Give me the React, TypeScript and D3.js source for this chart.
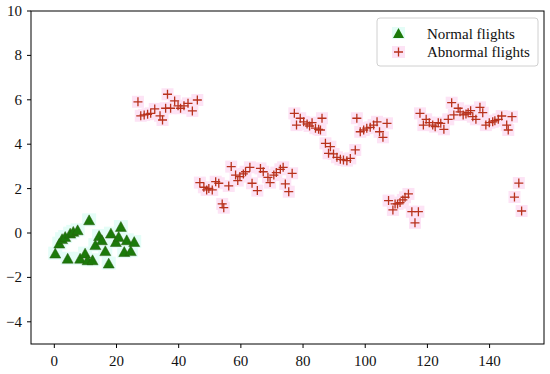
import React from 'react';
import * as d3 from 'd3';

// normal flights (triangles)
const normalX = [0.3, 1.6, 2.5, 3.5, 4.3, 5.1, 6.1, 7.5, 8.3, 9.9, 10.7, 11.2, 12.3, 13.2, 14.4, 15.3, 16.4, 17.5, 18.2, 19.8, 20.7, 21.4, 22.5, 23.3, 24.6, 25.7];
const normalY = [-0.93, -0.48, -0.28, -0.18, -1.16, -0.03, 0.05, 0.12, -1.16, -0.93, -1.23, 0.57, -1.23, -0.55, -0.14, -0.33, -0.82, -1.38, -0.03, -0.41, -0.18, 0.27, -0.86, -0.33, -0.82, -0.41];

// abnormal flights (plus signs)
const abnormalX = [
  26.9, 27.8, 28.9, 30, 31, 32.3, 34, 34.8, 35.8, 36.4, 37.4, 38.7, 39.8, 40.6, 41.7, 43, 44.4, 46,
  46.8, 48.1, 49, 49.7, 50.8, 51.9, 52.9, 54, 54.5, 56.1, 56.9, 58.3, 59, 59.7, 60.8, 61.5, 62.9, 63.6, 65.3, 66.3, 67.2, 68.7, 69.4, 70.6, 71.4, 72.7, 73.6, 74.3, 75.4, 76.5,
  77.2, 77.9, 79.1, 80.2, 81.3, 82.1, 82.9, 84, 85, 85.6, 86.1,
  87.2, 88.2, 88.8, 89.8, 90.9, 92, 93, 94.1, 95.2, 96.8,
  97.3, 98.4, 99.5, 100.5, 101.6, 102.7, 103.8, 104.6, 105.7, 107,
  107.5, 108.9, 109.6, 110.4, 111.2, 112.1, 112.8, 113.9, 115, 116, 117.1,
  117.6, 118.7, 119.6, 120.6, 121.7, 122.5, 123.5, 124.3, 125.3, 126.7, 127.8, 128.5, 129.9, 130.5, 131.5, 132.4, 133.1, 133.9, 134.6, 135.6, 136.9, 137.8, 138.8, 139.9, 141, 141.7, 142.8, 143.9, 145.5, 146, 147.2,
  148, 149.4, 150.3,
];
const abnormalY = [
  5.91, 5.28, 5.32, 5.35, 5.39, 5.59, 5.28, 5.09, 5.62, 6.25, 5.62, 5.95, 5.73, 5.62, 5.73, 5.84, 5.5, 5.99,
  2.27, 2.06, 1.94, 2.01, 1.94, 2.31, 2.24, 1.31, 1.14, 2.12, 2.99, 2.61, 2.36, 2.54, 2.66, 2.76, 2.96, 2.24, 1.91, 2.91, 2.76, 2.51, 2.27, 2.61, 2.72, 2.87, 2.96, 2.21, 1.86, 2.69,
  5.39, 4.86, 5.17, 5.01, 4.91, 4.82, 4.97, 4.72, 4.67, 4.64, 5.17,
  4.04, 3.59, 3.89, 3.56, 3.41, 3.32, 3.29, 3.26, 3.36, 3.74,
  5.17, 4.56, 4.64, 4.72, 4.76, 4.86, 5.01, 4.56, 4.31, 4.94,
  1.46, 1.04, 1.31, 1.31, 1.37, 1.49, 1.61, 1.76, 0.96, 0.46, 0.96,
  5.39, 4.86, 5.12, 4.97, 4.86, 4.79, 4.97, 4.94, 4.67, 5.12, 5.87, 5.32, 5.62, 5.46, 5.32, 5.36, 5.42, 5.51, 5.24, 5.12, 5.66, 5.42, 4.86, 4.97, 5.01, 5.06, 5.12, 5.27, 4.86, 4.64, 5.24,
  1.62, 2.25, 0.99,
];

const xTicks = [0, 20, 40, 60, 80, 100, 120, 140];
const yTicks = [-4, -2, 0, 2, 4, 6, 8, 10];
const legendLabels = ['Normal flights', 'Abnormal flights'];

const W = 550;
const H = 374;
const margin = { top: 11, right: 6, bottom: 30, left: 31 };
const font = "'Liberation Serif', 'Times New Roman', serif";
const green = '#1b7a0a';
const red = '#b8321c';

const tri = (cx: number, cy: number, s = 5.5) =>
  `M${cx},${cy - s}L${cx + s},${cy + s * 0.8}L${cx - s},${cy + s * 0.8}Z`;
const plus = (cx: number, cy: number, s = 4.5) =>
  `M${cx - s},${cy}H${cx + s}M${cx},${cy - s}V${cy + s}`;

export default function App() {
  const x = d3.scaleLinear().domain([-7.5, 157.5]).range([margin.left, W - margin.right]);
  const y = d3.scaleLinear().domain([-5, 10]).range([H - margin.bottom, margin.top]);
  const normal = normalX.map((v, i) => [x(v), y(normalY[i])]);
  const abnormal = abnormalX.map((v, i) => [x(v), y(abnormalY[i])]);
  const fmt = (d: number) => (d < 0 ? '\u2212' + Math.abs(d) : String(d));

  return (
    <svg width={W} height={H} style={{ position: 'absolute', left: 0, top: 0, background: '#fff', fontFamily: font }}>
      <g>
        {normal.map(([cx, cy], i) => (
          <rect key={'nh' + i} x={cx - 7} y={cy - 7} width={14} height={13} fill="#e4fdf7" />
        ))}
        {abnormal.map(([cx, cy], i) => (
          <rect key={'ah' + i} x={cx - 6} y={cy - 6} width={12} height={12} fill="#fde3f5" />
        ))}
        {normal.map(([cx, cy], i) => (
          <path key={'n' + i} d={tri(cx, cy)} fill={green} stroke="#2a5a10" strokeWidth={0.5} />
        ))}
        {abnormal.map(([cx, cy], i) => (
          <path key={'a' + i} d={plus(cx, cy)} stroke={red} strokeWidth={1.3} fill="none" />
        ))}
      </g>
      <rect x={margin.left} y={margin.top} width={W - margin.left - margin.right} height={H - margin.top - margin.bottom}
        fill="none" stroke="#000" strokeWidth={1} />
      {xTicks.map((t) => (
        <g key={'x' + t} transform={`translate(${x(t)},${H - margin.bottom})`}>
          <line y2={4} stroke="#000" />
          <text y={22} textAnchor="middle" fontSize={15} fill="#111">{t}</text>
        </g>
      ))}
      {yTicks.map((t) => (
        <g key={'y' + t} transform={`translate(${margin.left},${y(t)})`}>
          <line x2={-4} stroke="#000" />
          <text x={-9} dy="0.33em" textAnchor="end" fontSize={15} fill="#111">{fmt(t)}</text>
        </g>
      ))}
      <g transform="translate(377,18)">
        <rect width={161} height={48} rx={3} fill="#fff" fillOpacity={0.85} stroke="#d0d0d0" />
        <rect x={15} y={9} width={13} height={12} fill="#e4fdf7" />
        <path d={tri(21.5, 15.5)} fill={green} />
        <rect x={15} y={28} width={13} height={12} fill="#fde3f5" />
        <path d={plus(21.5, 34)} stroke={red} strokeWidth={1.3} />
        {legendLabels.map((l, i) => (
          <text key={l} x={50} y={16 + i * 18} dy="0.33em" fontSize={15} fill="#111">{l}</text>
        ))}
      </g>
    </svg>
  );
}
